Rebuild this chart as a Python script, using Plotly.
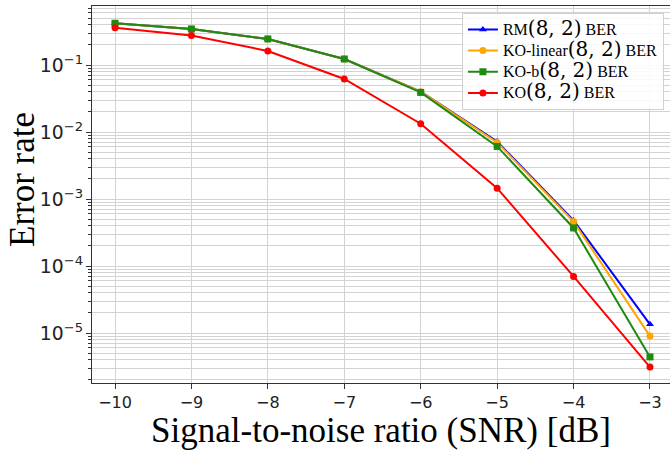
import plotly.graph_objects as go

snr = [-10, -9, -8, -7, -6, -5, -4, -3]
rm_ber = [0.42, 0.345, 0.245, 0.123, 0.040, 0.0072, 4.8e-4, 1.35e-5]
ko_linear_ber = [0.42, 0.345, 0.245, 0.123, 0.040, 0.0070, 4.6e-4, 9.0e-6]
ko_b_ber = [0.42, 0.345, 0.245, 0.123, 0.039, 0.0061, 3.7e-4, 4.4e-6]
ko_ber = [0.36, 0.275, 0.162, 0.062, 0.0133, 0.00145, 7.0e-5, 3.1e-6]

names = ["RM", "KO-linear", "KO-b", "KO"]
series = [rm_ber, ko_linear_ber, ko_b_ber, ko_ber]
colors = ["#0000ff", "#ffa500", "#1f8a10", "#ff0000"]
symbols = ["triangle-up", "circle", "square", "circle"]
msizes = [7, 7, 7, 7]


def label(n):
    return (f"<span style='font-family:Liberation Serif;font-size:16px'>{n}</span>"
            f"<span style='font-family:DejaVu Serif;font-size:20px'>(8, 2)</span>"
            f"<span style='font-family:Liberation Serif;font-size:16px'> BER</span>")


fig = go.Figure()
for n, ys, c, s, ms in zip(names, series, colors, symbols, msizes):
    fig.add_trace(go.Scatter(
        x=snr, y=ys, mode="lines+markers", name=label(n),
        line=dict(color=c, width=2),
        marker=dict(symbol=s, size=ms, color=c),
    ))

grid = "#d3d3d3"
fig.update_layout(
    width=670, height=450,
    margin=dict(l=92, r=0, t=6, b=67),
    plot_bgcolor="white", paper_bgcolor="white",
    showlegend=True,
    legend=dict(
        x=0.64, y=0.982, xanchor="left", yanchor="top",
        bgcolor="rgba(255,255,255,0.85)", bordercolor="#d0d0d0", borderwidth=1,
        tracegroupgap=0, itemwidth=30,
        font=dict(family="Liberation Serif", size=14, color="black"),
    ),
    xaxis=dict(
        range=[-10.301, -2.738],
        tickmode="array", tickvals=snr,
        ticktext=[f"\u2212{abs(v)}" for v in snr],
        ticks="outside", ticklen=5, tickcolor="#333",
        tickfont=dict(family="DejaVu Sans", size=16, color="#222"),
        showgrid=True, gridcolor=grid, gridwidth=1,
        showline=True, linecolor="#333", linewidth=1, mirror=True,
        zeroline=False,
        title=dict(text="Signal-to-noise ratio (SNR) [dB]",
                   font=dict(family="Liberation Serif", size=35, color="black"),
                   standoff=8),
    ),
    yaxis=dict(
        type="log",
        range=[-5.746, -0.119],
        dtick=1, exponentformat="power",
        ticks="outside", ticklen=5, tickcolor="#333",
        tickfont=dict(family="DejaVu Sans", size=15, color="#222"),
        showgrid=True, gridcolor=grid, gridwidth=1,
        minor=dict(showgrid=True, gridcolor=grid, ticks="outside", ticklen=3, tickcolor="#333"),
        showline=True, linecolor="#333", linewidth=1, mirror=True,
        zeroline=False,
    ),
    annotations=[dict(
        text="Error rate", textangle=-90,
        xref="paper", yref="paper", x=(22 - 92) / 578, y=(383 - 180) / 377,
        xanchor="center", yanchor="middle", showarrow=False,
        font=dict(family="Liberation Serif", size=35, color="black"),
    )],
)

fig.write_html("out.html")
